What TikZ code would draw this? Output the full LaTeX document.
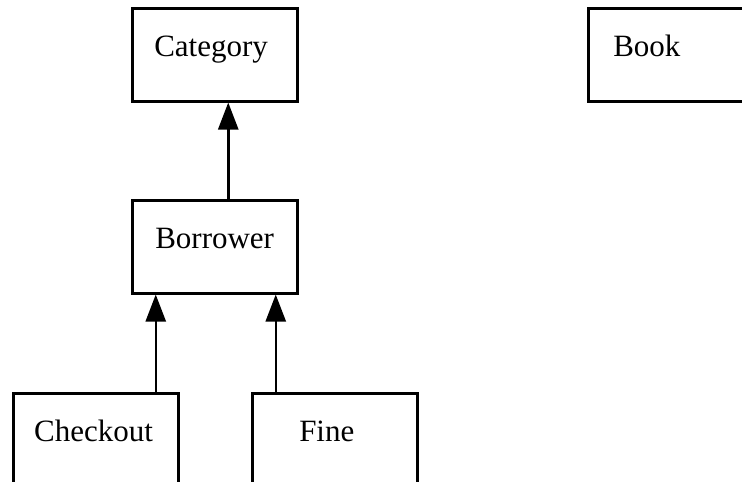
\documentclass[tikz,border=0pt]{standalone}
\usepackage{fontspec}
\setmainfont{Liberation Serif}
\usetikzlibrary{arrows.meta}
\tikzset{
  cls/.style={draw, line width=2.5pt, anchor=north west, inner ysep=0pt,
    inner xsep=#1, text width=165pt-2*#1, align=left,
    text height=48pt, text depth=45pt,
    font=\fontsize{31}{37}\selectfont},
  cls/.default=22pt,
  inh/.style={line width=2.5pt, -{Triangle[length=27pt,width=20pt]}}
}
\begin{document}
\begin{tikzpicture}[x=1pt,y=-1pt]
\useasboundingbox (0,0) rectangle (742,482);
\clip (0,0) rectangle (742,482);
\node[cls=22pt] (category) at (131,7) {Category};
\node[cls=25pt] (book) at (587,7) {Book};
\node[cls=23pt] (borrower) at (131,199) {Borrower};
\node[cls=21pt] (checkout) at (12,392) {Checkout};
\node[cls=47pt] (fine) at (251,392) {Fine};
\draw[inh] ([xshift=13.5pt]borrower.north) -- ([xshift=13.5pt]category.south);
\draw[inh] ([xshift=60pt]checkout.north) -- ([xshift=-59pt]borrower.south);
\draw[inh] ([xshift=-59pt]fine.north) -- ([xshift=61pt]borrower.south);
\end{tikzpicture}
\end{document}
